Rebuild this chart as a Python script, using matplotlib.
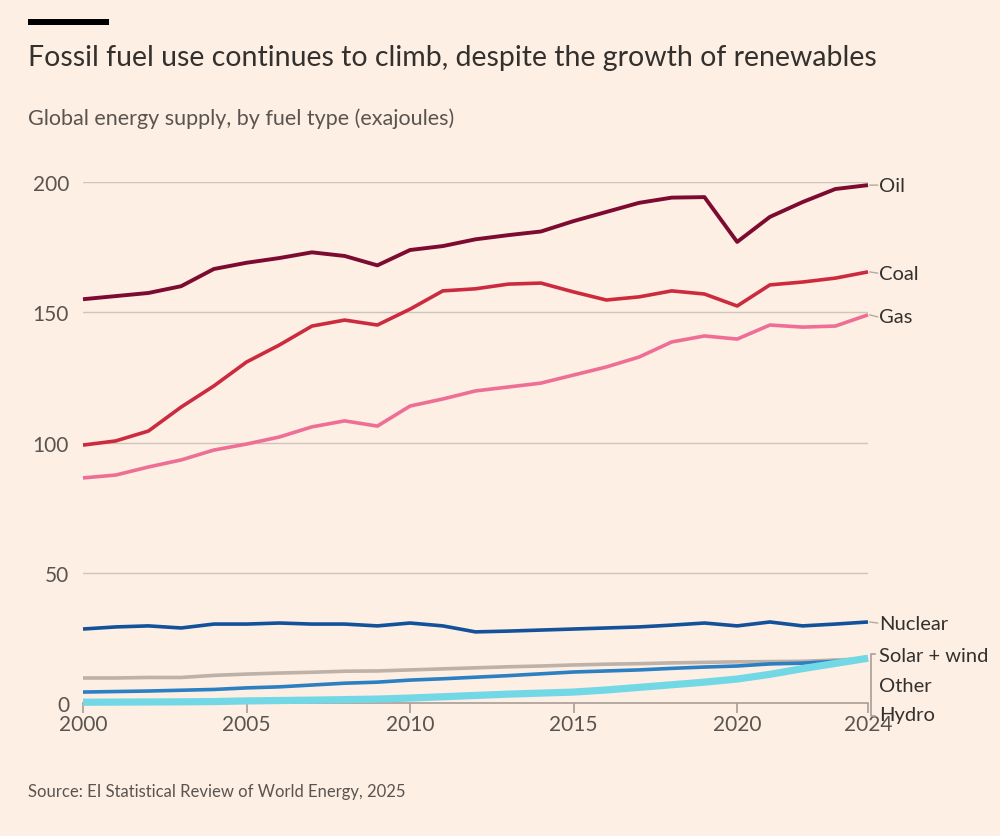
#-  Python 3 source code
#
#   Global energy supply by fuel type, 2000-2024, drawn in the FT house style.

import matplotlib
matplotlib.use("Agg")
import matplotlib.pyplot as pyplot

###

years = list(range(2000, 2025))

oil = [155.0, 156.2, 157.4, 160.0, 166.6, 169.0, 170.8, 173.0, 171.6, 168.0,
       173.9, 175.4, 178.0, 179.6, 181.0, 185.0, 188.5, 192.0, 194.0, 194.2,
       177.0, 186.6, 192.3, 197.3, 198.8]
coal = [99.0, 100.6, 104.4, 113.6, 121.7, 130.9, 137.4, 144.7, 147.0, 145.1,
        151.2, 158.2, 159.0, 160.8, 161.2, 157.8, 154.7, 155.9, 158.2, 157.0,
        152.4, 160.5, 161.6, 163.1, 165.5]
gas = [86.4, 87.5, 90.6, 93.3, 97.1, 99.4, 102.1, 106.0, 108.3, 106.3,
       114.0, 116.7, 119.8, 121.3, 122.8, 125.9, 129.0, 132.8, 138.6, 140.9,
       139.7, 145.1, 144.3, 144.7, 149.0]
nuclear = [28.4, 29.2, 29.6, 28.8, 30.3, 30.3, 30.7, 30.3, 30.3, 29.6,
           30.7, 29.6, 27.3, 27.6, 28.0, 28.4, 28.8, 29.2, 29.9, 30.7,
           29.6, 31.1, 29.6, 30.3, 31.1]
other = [9.6, 9.6, 9.8, 9.8, 10.6, 11.1, 11.5, 11.8, 12.2, 12.3,
         12.7, 13.1, 13.5, 13.9, 14.2, 14.6, 14.9, 15.1, 15.4, 15.6,
         15.8, 15.9, 16.0, 16.5, 17.0]
hydro = [4.2, 4.4, 4.6, 4.9, 5.2, 5.8, 6.2, 6.9, 7.6, 8.0,
         8.8, 9.3, 9.9, 10.5, 11.2, 11.9, 12.3, 12.7, 13.3, 13.8,
         14.2, 15.0, 15.3, 16.0, 16.8]
solar_wind = [0.3, 0.35, 0.4, 0.45, 0.55, 0.8, 0.95, 1.1, 1.3, 1.5,
              1.9, 2.4, 2.9, 3.4, 3.8, 4.2, 5.0, 6.0, 7.0, 8.0,
              9.2, 11.0, 13.2, 15.2, 17.2]

labels = ["Oil", "Coal", "Gas", "Nuclear", "Solar + wind", "Other", "Hydro"]
label_y = [198.8, 165.0, 148.2, 30.7, 18.4, 6.9, -4.6]

yticks = [0, 50, 100, 150, 200]
xticks = [2000, 2005, 2010, 2015, 2020, 2024]

title = "Fossil fuel use continues to climb, despite the growth of renewables"
subtitle = "Global energy supply, by fuel type (exajoules)"
source = "Source: EI Statistical Review of World Energy, 2025"

###

def main():

    bg = "#fdefe3"
    ink = "#33302e"
    soft = "#5a5450"

    pyplot.rcParams["font.family"] = ["Lato", "DejaVu Sans"]

    fig = pyplot.figure(figsize=(10, 8.37), dpi=100, facecolor=bg)
    ax = fig.add_axes([0.083, 1 - 704/837, 0.868 - 0.083, (704 - 183)/837])
    ax.set_facecolor(bg)

  # Gridlines first, so that the series sit on top of them

    for v in yticks[1:]:
        ax.axhline(v, color="#cfc4ba", linewidth=1.0, zorder=1)

    series = [
        (other,      "#bdb1a8", 2.6, 2),
        (hydro,      "#2b7fc3", 2.6, 3),
        (nuclear,    "#13519a", 2.6, 3),
        (gas,        "#ef6e96", 2.6, 3),
        (coal,       "#cc2b3f", 2.6, 3),
        (oil,        "#7d0b31", 2.8, 3),
        (solar_wind, "#72d8e6", 5.2, 4),
    ]
    for values, colour, width, z in series:
        ax.plot(years, values, color=colour, linewidth=width, zorder=z,
                solid_capstyle="butt", solid_joinstyle="round", clip_on=False)

    ax.set_xlim(2000, 2024)
    ax.set_ylim(0, 200)

    for side in ["top", "right", "left"]:
        ax.spines[side].set_visible(False)
    ax.spines["bottom"].set_color("#a89e96")
    ax.spines["bottom"].set_linewidth(1.2)
    ax.spines["bottom"].set_zorder(1)

    ax.set_xticks(xticks)
    ax.set_xticklabels([str(x) for x in xticks])
    ax.set_yticks(yticks)
    ax.set_yticklabels([str(y) for y in yticks])
    ax.tick_params(axis="x", length=7, width=1.2, color="#a89e96",
                   labelsize=15, labelcolor=soft, pad=1)
    ax.tick_params(axis="y", length=0, labelsize=15, labelcolor=soft, pad=10)

  # Direct labels at the right end of each series, with short leaders

    for name, y, end in zip(labels[:4], label_y[:4],
                            [oil[-1], coal[-1], gas[-1], nuclear[-1]]):
        ax.annotate("", xy=(2024.05, end), xytext=(2024.3, y),
                    arrowprops=dict(arrowstyle="-", color="#b5aaa1", lw=1.0,
                                    shrinkA=0, shrinkB=0),
                    annotation_clip=False)
        ax.text(2024.35, y, name, fontsize=14.5, color=ink, va="center",
                ha="left")

  # The three small series converge, so they share one bracket

    bx = 2024.1
    top, bottom = label_y[4] + 0.5, label_y[6] - 0.5
    ax.plot([bx + 0.12, bx, bx, bx + 0.12], [top, top, bottom, bottom],
            color="#a89e96", linewidth=1.2, clip_on=False, zorder=5)
    for name, y in zip(labels[4:], label_y[4:]):
        ax.text(2024.35, y, name, fontsize=14.5, color=ink, va="center",
                ha="left")

  # Headline furniture

    fig.patches.append(matplotlib.patches.Rectangle(
        (28/1000, 1 - 25.5/837), 81/1000, 5.5/837, transform=fig.transFigure,
        facecolor="#000000", edgecolor="none"))
    fig.text(28/1000, 1 - 58/837, title, fontsize=20.5, color=ink,
             va="center", ha="left")
    fig.text(28/1000, 1 - 119/837, subtitle, fontsize=15.5, color=soft,
             va="center", ha="left")
    fig.text(28/1000, 1 - 792/837, source, fontsize=12, color=soft,
             va="center", ha="left")

    fig.savefig("out.png", dpi=100, facecolor=bg)

###

if __name__ == "__main__":
    main()
